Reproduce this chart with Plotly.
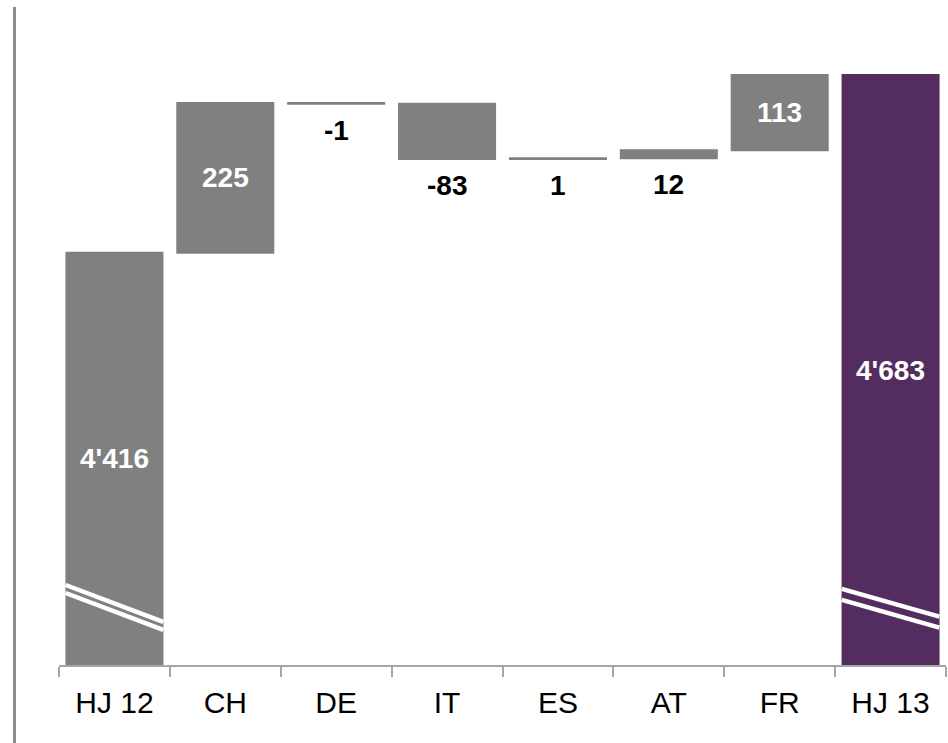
import plotly.graph_objects as go

categories = ["HJ 12", "CH", "DE", "IT", "ES", "AT", "FR", "HJ 13"]
measures = ["absolute", "relative", "relative", "relative", "relative", "relative", "relative", "total"]
values = [4416, 225, -1, -83, 1, 12, 113, 4683]
labels = ["4'416", "225", "-1", "-83", "1", "12", "113", "4'683"]
label_inside = [True, True, False, False, False, False, True, True]

GRAY = "#808080"
PURPLE = "#532d5f"
Y_MIN, Y_MAX = 3796.5, 4765.7
FONT = "Liberation Sans, Arial, sans-serif"

# compute bases / heights from the data
bases, heights, colors = [], [], []
running = 0
for m, v in zip(measures, values):
    if m == "absolute":
        bases.append(0); heights.append(v); running = v
        colors.append(GRAY)
    elif m == "total":
        bases.append(0); heights.append(running)
        colors.append(PURPLE)
    else:
        lo = running if v >= 0 else running + v
        bases.append(lo); heights.append(abs(v)); running += v
        colors.append(GRAY)

fig = go.Figure()
fig.add_trace(go.Bar(
    x=categories, y=heights, base=bases,
    marker=dict(color=colors, line=dict(color=colors, width=2)),
    hoverinfo="skip", showlegend=False,
))

ann = []
for i, (c, b, h, lab, ins) in enumerate(zip(categories, bases, heights, labels, label_inside)):
    if ins:
        lo = max(b, Y_MIN)
        ann.append(dict(x=c, y=(lo + b + h) / 2, text="<b>" + lab + "</b>", showarrow=False,
                        font=dict(color="white", size=28, family=FONT),
                        xanchor="center", yanchor="middle"))
    else:
        ann.append(dict(x=c, y=b, text="<b>" + lab + "</b>", showarrow=False,
                        font=dict(color="black", size=28, family=FONT),
                        xanchor="center", yanchor="top", yshift=-9))

shapes = []
# axis-break marks on the two total bars
breaks = {0: [(0.124, 0.0667), (0.1116, 0.0543)], 7: [(0.118, 0.075), (0.101, 0.058)]}
for idx, lines in breaks.items():
    for y0, y1 in lines:
        shapes.append(dict(type="line", xref="x", yref="paper",
                           x0=idx - 0.44, x1=idx + 0.44, y0=y0, y1=y1,
                           line=dict(color="white", width=4.5)))
# left vertical rule
shapes.append(dict(type="line", xref="paper", yref="paper",
                   x0=-0.0502, x1=-0.0502, y0=1.0202, y1=-0.121,
                   line=dict(color="#8c8c8c", width=3)))

fig.update_layout(
    width=948, height=743,
    margin=dict(l=59, r=2, t=20, b=78),
    plot_bgcolor="white", paper_bgcolor="white",
    bargap=0.134,
    annotations=ann, shapes=shapes,
    font=dict(family=FONT),
)
fig.update_xaxes(
    range=[-0.5, 7.5], showline=True, linecolor="#a6a6a6", linewidth=1.5,
    ticks="outside", tickson="boundaries", ticklen=10, tickcolor="#a6a6a6", tickwidth=1.5,
    ticklabelstandoff=10,
    tickfont=dict(size=30, color="black", family=FONT),
    showgrid=False, zeroline=False,
)
fig.update_yaxes(range=[Y_MIN, Y_MAX], visible=False, showgrid=False, zeroline=False)

fig.write_html("out.html")
